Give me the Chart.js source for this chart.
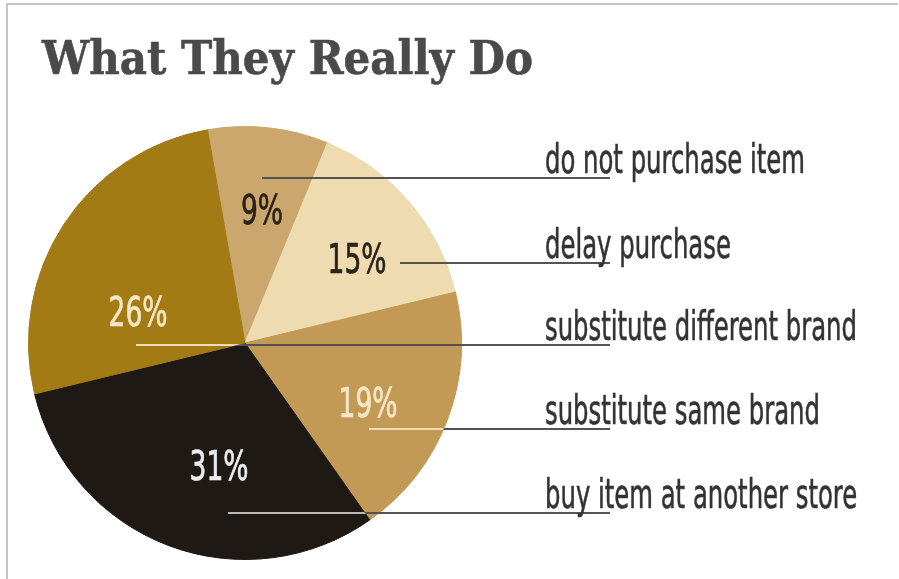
<!DOCTYPE html>
<html>
<head>
<meta charset="utf-8">
<script src="https://cdn.jsdelivr.net/npm/chart.js@4.4.1/dist/chart.umd.min.js"></script>
<style>
  html, body { margin: 0; padding: 0; background: #ffffff; }
  canvas { display: block; }
</style>
</head>
<body>
<canvas id="pie" width="899" height="579"></canvas>
<script>
// Survey answers, in clockwise order starting just left of 12 o'clock
const chartTitle = 'What They Really Do';
const categories = [
  'do not purchase item',
  'delay purchase',
  'substitute same brand',
  'buy item at another store',
  'substitute different brand'
];
const shares = [9, 15, 19, 31, 26];
const sliceColors = ['#cba76d', '#eedbb0', '#c39a55', '#1e1915', '#a37b14'];
const valueTextColors = ['#2b2219', '#2b2219', '#f4e6c6', '#ececec', '#f4e6c6'];
const innerLineColors = [null, null, '#f0dcb6', '#b9b9b9', '#f0dcb6'];

// Placement of the value text and of the start of each leader line,
// measured from the pie centre; ly also fixes the row of the caption.
const placement = [
  { tx: 17,   ty: -133, lx: 17,   ly: -165 },
  { tx: 112,  ty: -84,  lx: 155,  ly: -80 },
  { tx: 123,  ty: 60,   lx: 124,  ly: 86 },
  { tx: -26,  ty: 123,  lx: -17,  ly: 170 },
  { tx: -107, ty: -31,  lx: -109, ly: 2 }
];
const captionX = 545;
const lineEndX = 610;
const captionFont = '40px "Liberation Sans Narrow", "DejaVu Sans Condensed", sans-serif';
const valueFont = '40px "Liberation Sans Narrow", "DejaVu Sans Condensed", sans-serif';

function textWidth(ctx, text, font) {
  ctx.save();
  ctx.font = font;
  const w = ctx.measureText(text).width;
  ctx.restore();
  return w;
}

function drawScaledText(ctx, text, x, y, font, color, sx, align, weight) {
  ctx.save();
  ctx.font = font;
  ctx.fillStyle = color;
  ctx.strokeStyle = color;
  ctx.textBaseline = 'alphabetic';
  const w = ctx.measureText(text).width * sx;
  let left = x;
  if (align === 'center') left = x - w / 2;
  ctx.translate(left, y);
  ctx.scale(sx, 1);
  ctx.textAlign = 'left';
  ctx.fillText(text, 0, 0);
  if (weight) {
    ctx.lineWidth = weight;
    ctx.strokeText(text, 0, 0);
  }
  ctx.restore();
}

const decorations = {
  id: 'decorations',
  beforeDraw(chart) {
    const ctx = chart.ctx;
    ctx.save();
    ctx.fillStyle = '#ffffff';
    ctx.fillRect(0, 0, chart.width, chart.height);
    // frame
    ctx.strokeStyle = '#c4c4c4';
    ctx.lineWidth = 2;
    ctx.beginPath();
    ctx.moveTo(7, chart.height);
    ctx.lineTo(7, 4);
    ctx.lineTo(chart.width - 1, 4);
    ctx.stroke();
    ctx.restore();
    // title
    const titleFont = 'bold 46px "DejaVu Serif"';
    const tw = textWidth(ctx, chartTitle, titleFont);
    drawScaledText(ctx, chartTitle, 42, 74, titleFont, '#4a4a4a', 491 / tw, 'left', 0.6);
  },
  afterDraw(chart) {
    const ctx = chart.ctx;
    const arcs = chart.getDatasetMeta(0).data;
    const cx = arcs[0].x, cy = arcs[0].y;
    // condensed lettering: squeeze the sans face horizontally
    const captionScale = 260 / textWidth(ctx, 'do not purchase item', captionFont);
    const valueScale = 59 / textWidth(ctx, '15%', valueFont);

    arcs.forEach((arc, i) => {
      const p = placement[i];
      const y = cy + p.ly;
      const x0 = cx + p.lx;
      ctx.save();
      ctx.lineWidth = 2;
      ctx.strokeStyle = '#555250';
      ctx.beginPath();
      ctx.moveTo(x0, y);
      ctx.lineTo(lineEndX, y);
      ctx.stroke();
      ctx.restore();

      if (innerLineColors[i]) {
        ctx.save();
        ctx.beginPath();
        ctx.moveTo(arc.x, arc.y);
        ctx.arc(arc.x, arc.y, arc.outerRadius, arc.startAngle, arc.endAngle);
        ctx.closePath();
        ctx.clip();
        ctx.lineWidth = 2;
        ctx.strokeStyle = innerLineColors[i];
        ctx.beginPath();
        ctx.moveTo(x0, y);
        ctx.lineTo(lineEndX, y);
        ctx.stroke();
        ctx.restore();
      }

      // value inside the slice
      drawScaledText(ctx, shares[i] + '%', cx + p.tx, cy + p.ty + 14,
        valueFont, valueTextColors[i], valueScale, 'center', 0.7);

      // caption sitting on its leader line
      drawScaledText(ctx, categories[i], captionX, y - 5,
        captionFont, '#333333', captionScale, 'left', 0.6);
    });
  }
};

new Chart(document.getElementById('pie'), {
  type: 'pie',
  data: {
    labels: categories,
    datasets: [{
      data: shares,
      backgroundColor: sliceColors,
      borderColor: sliceColors,
      borderWidth: 1
    }]
  },
  options: {
    responsive: false,
    devicePixelRatio: 1,
    animation: false,
    rotation: -10,
    layout: { padding: { left: 28, top: 126, right: 437, bottom: 19 } },
    plugins: {
      legend: { display: false },
      tooltip: { enabled: false },
      title: { display: false }
    },
    events: []
  },
  plugins: [decorations]
});
</script>
</body>
</html>
